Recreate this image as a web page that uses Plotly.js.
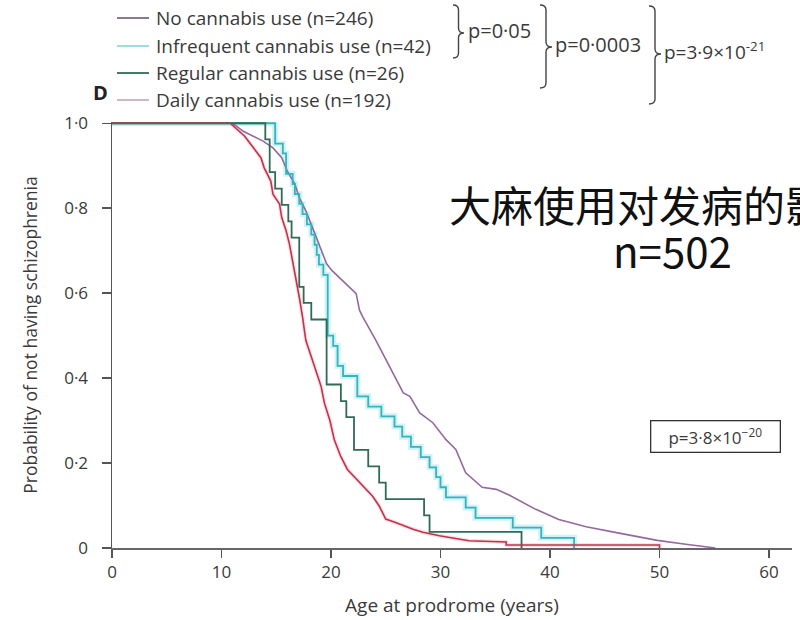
<!DOCTYPE html>
<html>
<head>
<meta charset="utf-8">
<script src="https://cdn.plot.ly/plotly-3.0.1.min.js"></script>
<style>html,body{margin:0;padding:0;background:#fff;}#chart{width:800px;height:620px;}</style>
</head>
<body>
<div id="chart"></div>
<script>
// ---- Data ----
const seriesNames = ["No cannabis use (n=246)", "Infrequent cannabis use (n=42)", "Regular cannabis use (n=26)", "Daily cannabis use (n=192)"];

const ageNone  = [0, 11.0, 12.0, 13.2, 13.8, 14.7, 15.5, 16.0, 16.7, 17.1, 17.7, 18.3, 19.0, 19.6, 20.1, 21.7, 22.3, 22.6, 22.9, 24.1, 25.3, 26.0, 26.6, 27.2, 28.1, 29.3, 30.5, 31.4, 32.3, 33.8, 35.1, 36.3, 38.7, 40.8, 43.3, 46.3, 49.8, 52.4, 55.1];
const survNone = [1, 1.0, 0.981, 0.966, 0.958, 0.942, 0.919, 0.888, 0.857, 0.825, 0.794, 0.755, 0.708, 0.669, 0.653, 0.614, 0.599, 0.56, 0.544, 0.489, 0.43, 0.396, 0.365, 0.357, 0.318, 0.295, 0.255, 0.232, 0.177, 0.143, 0.138, 0.124, 0.091, 0.067, 0.05, 0.035, 0.018, 0.009, 0];

const ageInfreq  = [0, 14.9, 15.6, 15.9, 16.5, 16.7, 17.1, 17.4, 17.8, 18.2, 18.5, 18.7, 18.9, 19.3, 19.7, 20.2, 20.6, 21.1, 22.4, 23.4, 24.6, 25.8, 26.5, 27.3, 28.2, 29.0, 29.6, 30.0, 30.5, 32.3, 33.2, 36.6, 39.2, 42.2];
const survInfreq = [1, 0.952, 0.929, 0.881, 0.857, 0.833, 0.810, 0.786, 0.762, 0.738, 0.714, 0.690, 0.667, 0.643, 0.500, 0.476, 0.429, 0.405, 0.357, 0.333, 0.310, 0.286, 0.262, 0.238, 0.214, 0.190, 0.167, 0.143, 0.119, 0.095, 0.071, 0.048, 0.024, 0];

const ageRegular  = [0, 14.0, 14.4, 14.9, 15.5, 16.1, 16.4, 17.1, 17.5, 18.2, 19.6, 20.9, 21.4, 22.1, 23.4, 24.4, 25.0, 28.5, 29.0, 37.4];
const survRegular = [1, 0.962, 0.885, 0.846, 0.808, 0.769, 0.731, 0.615, 0.577, 0.538, 0.385, 0.346, 0.308, 0.231, 0.192, 0.154, 0.115, 0.077, 0.038, 0];

const ageDaily  = [0, 10.8, 12.1, 12.7, 13.6, 13.9, 14.5, 14.7, 15.3, 15.5, 15.9, 16.2, 16.5, 16.8, 17.1, 17.4, 17.7, 18.2, 18.7, 19.1, 19.4, 19.9, 20.3, 20.9, 21.5, 22.9, 23.8, 24.4, 25.0, 25.9, 27.5, 28.4, 29.9, 32.6, 36.0, 36.0, 50.0, 50.0];
const survDaily = [1, 1, 0.97, 0.95, 0.919, 0.895, 0.864, 0.833, 0.81, 0.778, 0.747, 0.716, 0.677, 0.638, 0.591, 0.544, 0.489, 0.45, 0.411, 0.38, 0.341, 0.3, 0.255, 0.215, 0.185, 0.146, 0.122, 0.099, 0.068, 0.06, 0.044, 0.037, 0.029, 0.017, 0.014, 0.007, 0.007, 0];

const xTickVals = [0, 10, 20, 30, 40, 50, 60];
const yTickVals = [0, 0.2, 0.4, 0.6, 0.8, 1.0];
const yTickText = ["0", "0·2", "0·4", "0·6", "0·8", "1·0"];

const pairLabels = ["p=0·05", "p=0·0003", "p=3·9×10<sup>-21</sup>"];
const overallP = "p=3·8×10<sup>−20</sup>";
const titleLine1 = "大麻使用对发病的影响";
const titleLine2 = "n=502";

// ---- Styles ----
const colNone = "#93699f", colInfreq = "#35b3bf", colRegular = "#2f6b56", colDaily = "#c0344c";
const legCols = ["#7e6e80", "#93d8da", "#2f6b56", "#c7b2bf"];
const txt = "#3a3a3a";
const FONT = "'Open Sans', 'Noto Sans', sans-serif";

// Layout geometry (pixels) for placing annotations/shapes in paper coordinates
const L = 112, T = 122, W = 680, H = 426;
const px = v => (v - L) / W;
const py = v => (T + H - v) / H;

const traces = [
  {x: ageInfreq, y: survInfreq, mode: "lines", line: {shape: "hv", color: "rgba(150,228,235,0.45)", width: 6}, hoverinfo: "skip", showlegend: false},
  {x: ageDaily, y: survDaily, mode: "lines", line: {color: "rgba(235,170,185,0.35)", width: 4}, hoverinfo: "skip", showlegend: false},
  {x: ageNone, y: survNone, name: seriesNames[0], mode: "lines", line: {color: colNone, width: 1.6}},
  {x: ageInfreq, y: survInfreq, name: seriesNames[1], mode: "lines", line: {shape: "hv", color: colInfreq, width: 1.8}},
  {x: ageRegular, y: survRegular, name: seriesNames[2], mode: "lines", line: {shape: "hv", color: colRegular, width: 1.8}},
  {x: ageDaily, y: survDaily, name: seriesNames[3], mode: "lines", line: {color: colDaily, width: 1.6}}
];

const annotations = [];
const shapes = [];

// manual legend
const rowY = [18, 46, 73, 100];
seriesNames.forEach((n, i) => {
  shapes.push({type: "line", xref: "paper", yref: "paper", x0: px(117), x1: px(149), y0: py(rowY[i]), y1: py(rowY[i]), line: {color: legCols[i], width: 1.8}});
  annotations.push({xref: "paper", yref: "paper", x: px(154), y: py(rowY[i]), xanchor: "left", yanchor: "middle", showarrow: false, text: n, font: {family: FONT, size: 19, color: txt}});
});

// braces
function brace(x0, yt, yb, ym, w) {
  const xm = x0 + w / 2, xt = x0 + w, r = 5;
  const P = (a, b) => px(a).toFixed(5) + "," + py(b).toFixed(5);
  return "M" + P(x0, yt) + " Q" + P(xm, yt) + " " + P(xm, yt + r) + " L" + P(xm, ym - r) +
         " Q" + P(xm, ym) + " " + P(xt, ym) + " Q" + P(xm, ym) + " " + P(xm, ym + r) +
         " L" + P(xm, yb - r) + " Q" + P(xm, yb) + " " + P(x0, yb);
}
const braceDefs = [
  {x0: 453, yt: 5, yb: 58, ym: 33, w: 11, tx: 466, fs: 20},
  {x0: 540, yt: 5, yb: 88, ym: 47, w: 12, tx: 553, fs: 20},
  {x0: 649, yt: 6, yb: 104, ym: 54, w: 12, tx: 662, fs: 19}
];
braceDefs.forEach((b, i) => {
  shapes.push({type: "path", xref: "paper", yref: "paper", path: brace(b.x0, b.yt, b.yb, b.ym, b.w), line: {color: "#444", width: 1.4}});
  annotations.push({xref: "paper", yref: "paper", x: px(b.tx), y: py(b.ym - 3), xanchor: "left", yanchor: "middle", showarrow: false, text: pairLabels[i], font: {family: FONT, size: b.fs, color: txt}});
});

// panel letter
annotations.push({xref: "paper", yref: "paper", x: px(100), y: py(92), xanchor: "center", yanchor: "middle", showarrow: false, text: "<b>D</b>", font: {family: FONT, size: 20, color: "#222"}});

// overall p box
annotations.push({xref: "paper", yref: "paper", x: px(715), y: py(436), xanchor: "center", yanchor: "middle", showarrow: false, text: overallP, font: {family: FONT, size: 17, color: txt}, bordercolor: "#333", borderwidth: 1.3, borderpad: 3, width: 122, height: 24});

// overlaid Chinese title
annotations.push({xref: "paper", yref: "paper", x: px(447), y: py(203), xanchor: "left", yanchor: "middle", showarrow: false, text: titleLine1, font: {family: "'Noto Sans CJK SC', sans-serif", size: 42, color: "#111"}});
annotations.push({xref: "paper", yref: "paper", x: px(672), y: py(249), xanchor: "center", yanchor: "middle", showarrow: false, text: titleLine2, font: {family: "'Noto Sans CJK SC', sans-serif", size: 42, color: "#111"}});

const layout = {
  width: 800, height: 620,
  margin: {l: L, r: 800 - L - W, t: T, b: 620 - T - H},
  paper_bgcolor: "#fff", plot_bgcolor: "#fff",
  showlegend: false,
  font: {family: FONT, color: txt},
  xaxis: {
    range: [0, 62.1], showgrid: false, zeroline: false,
    showline: true, linecolor: "#666", linewidth: 1.8,
    ticks: "outside", ticklen: 8, tickwidth: 1.5, tickcolor: "#555",
    tickvals: xTickVals, tickfont: {family: FONT, size: 17, color: txt},
    title: {text: "Age at prodrome (years)", font: {family: FONT, size: 19, color: txt}, standoff: 16}
  },
  yaxis: {
    range: [0, 1.003], showgrid: false, zeroline: false,
    showline: true, linecolor: "#555", linewidth: 1.5,
    ticks: "outside", ticklen: 9, tickwidth: 1.5, tickcolor: "#555",
    tickvals: yTickVals, ticktext: yTickText, ticklabelstandoff: 10,
    tickfont: {family: FONT, size: 17, color: txt},
    title: {text: "Probability of not having schizophrenia", font: {family: FONT, size: 17.5, color: txt}, standoff: 22}
  },
  annotations: annotations,
  shapes: shapes
};

Plotly.newPlot("chart", traces, layout, {staticPlot: true, displayModeBar: false});
</script>
</body>
</html>
